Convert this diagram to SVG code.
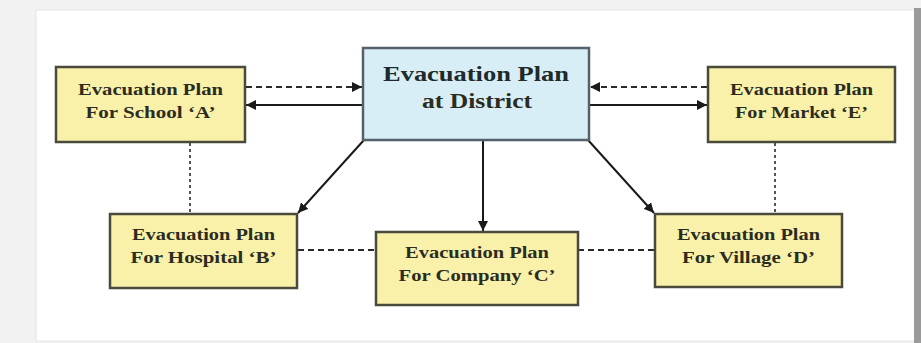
<svg xmlns="http://www.w3.org/2000/svg" width="921" height="343" viewBox="0 0 921 343">
<defs>
<marker id="ah" viewBox="0 0 10 10" refX="10" refY="5" markerWidth="5" markerHeight="5" orient="auto" markerUnits="strokeWidth">
<path d="M0,0 L10,5 L0,10 z" fill="#1a1a1a"/>
</marker>
<style>
.box{fill:#f9f1aa;stroke:#4a4a3c;stroke-width:2.5}
.dist{fill:#d8eef6;stroke:#55606a;stroke-width:2.5}
.t{font-family:"Liberation Serif","Times New Roman",serif;font-weight:bold;font-size:16px;fill:#2c2c1e;text-anchor:middle}
.tb{font-family:"Liberation Serif","Times New Roman",serif;font-weight:bold;font-size:22px;fill:#1e2a2c;text-anchor:middle}
.solid{stroke:#1a1a1a;stroke-width:2;fill:none}
.dash{stroke:#2a2a2a;stroke-width:2;fill:none;stroke-dasharray:6,4}
.dot{stroke:#555;stroke-width:2;fill:none;stroke-dasharray:3,3}
</style>
</defs>
<rect x="0" y="0" width="921" height="343" fill="#f2f2f2"/>
<rect x="36" y="10" width="879" height="331" fill="#ffffff" stroke="#e4e4e4" stroke-width="1"/>
<rect x="914" y="8" width="7" height="335" fill="#9a9a9a"/>
<g id="connectors">
<line class="dash" x1="246" y1="87" x2="362" y2="87" marker-end="url(#ah)"/>
<line class="solid" x1="362" y1="105" x2="246" y2="105" marker-end="url(#ah)"/>
<line class="dash" x1="707" y1="87" x2="590" y2="87" marker-end="url(#ah)"/>
<line class="solid" x1="590" y1="105" x2="707" y2="105" marker-end="url(#ah)"/>
<line class="solid" x1="364" y1="140" x2="298" y2="213" marker-end="url(#ah)"/>
<line class="solid" x1="483" y1="141" x2="483" y2="231" marker-end="url(#ah)"/>
<line class="solid" x1="588" y1="140" x2="654" y2="213" marker-end="url(#ah)"/>
<line class="dot" x1="190" y1="143" x2="190" y2="213"/>
<line class="dot" x1="775" y1="143" x2="775" y2="213"/>
<line class="dash" x1="298" y1="250" x2="375" y2="250"/>
<line class="dash" x1="578" y1="250" x2="654" y2="250"/>
</g>
<g id="district">
<rect class="dist" x="363" y="48" width="226" height="92"/>
<text class="tb" x="476" y="81" textLength="186" lengthAdjust="spacingAndGlyphs">Evacuation Plan</text>
<text class="t" x="477" y="108" style="font-size:20px" textLength="110" lengthAdjust="spacingAndGlyphs">at District</text>
</g>
<g id="school">
<rect class="box" x="56" y="67" width="189" height="75"/>
<text class="t" x="150.5" y="95" textLength="145" lengthAdjust="spacingAndGlyphs">Evacuation Plan</text>
<text class="t" x="150.5" y="118" textLength="130" lengthAdjust="spacingAndGlyphs">For School ‘A’</text>
</g>
<g id="market">
<rect class="box" x="708" y="67" width="187" height="75"/>
<text class="t" x="801.5" y="95" textLength="143" lengthAdjust="spacingAndGlyphs">Evacuation Plan</text>
<text class="t" x="801.5" y="118" textLength="133" lengthAdjust="spacingAndGlyphs">For Market ‘E’</text>
</g>
<g id="hospital">
<rect class="box" x="110" y="214" width="187" height="74"/>
<text class="t" x="203.5" y="240" textLength="143" lengthAdjust="spacingAndGlyphs">Evacuation Plan</text>
<text class="t" x="203.5" y="263" textLength="146" lengthAdjust="spacingAndGlyphs">For Hospital ‘B’</text>
</g>
<g id="company">
<rect class="box" x="376" y="232" width="202" height="73"/>
<text class="t" x="477" y="258" textLength="144" lengthAdjust="spacingAndGlyphs">Evacuation Plan</text>
<text class="t" x="477" y="281" textLength="157" lengthAdjust="spacingAndGlyphs">For Company ‘C’</text>
</g>
<g id="village">
<rect class="box" x="655" y="214" width="187" height="73"/>
<text class="t" x="748.5" y="240" textLength="143" lengthAdjust="spacingAndGlyphs">Evacuation Plan</text>
<text class="t" x="748.5" y="263" textLength="133" lengthAdjust="spacingAndGlyphs">For Village ‘D’</text>
</g>
</svg>
